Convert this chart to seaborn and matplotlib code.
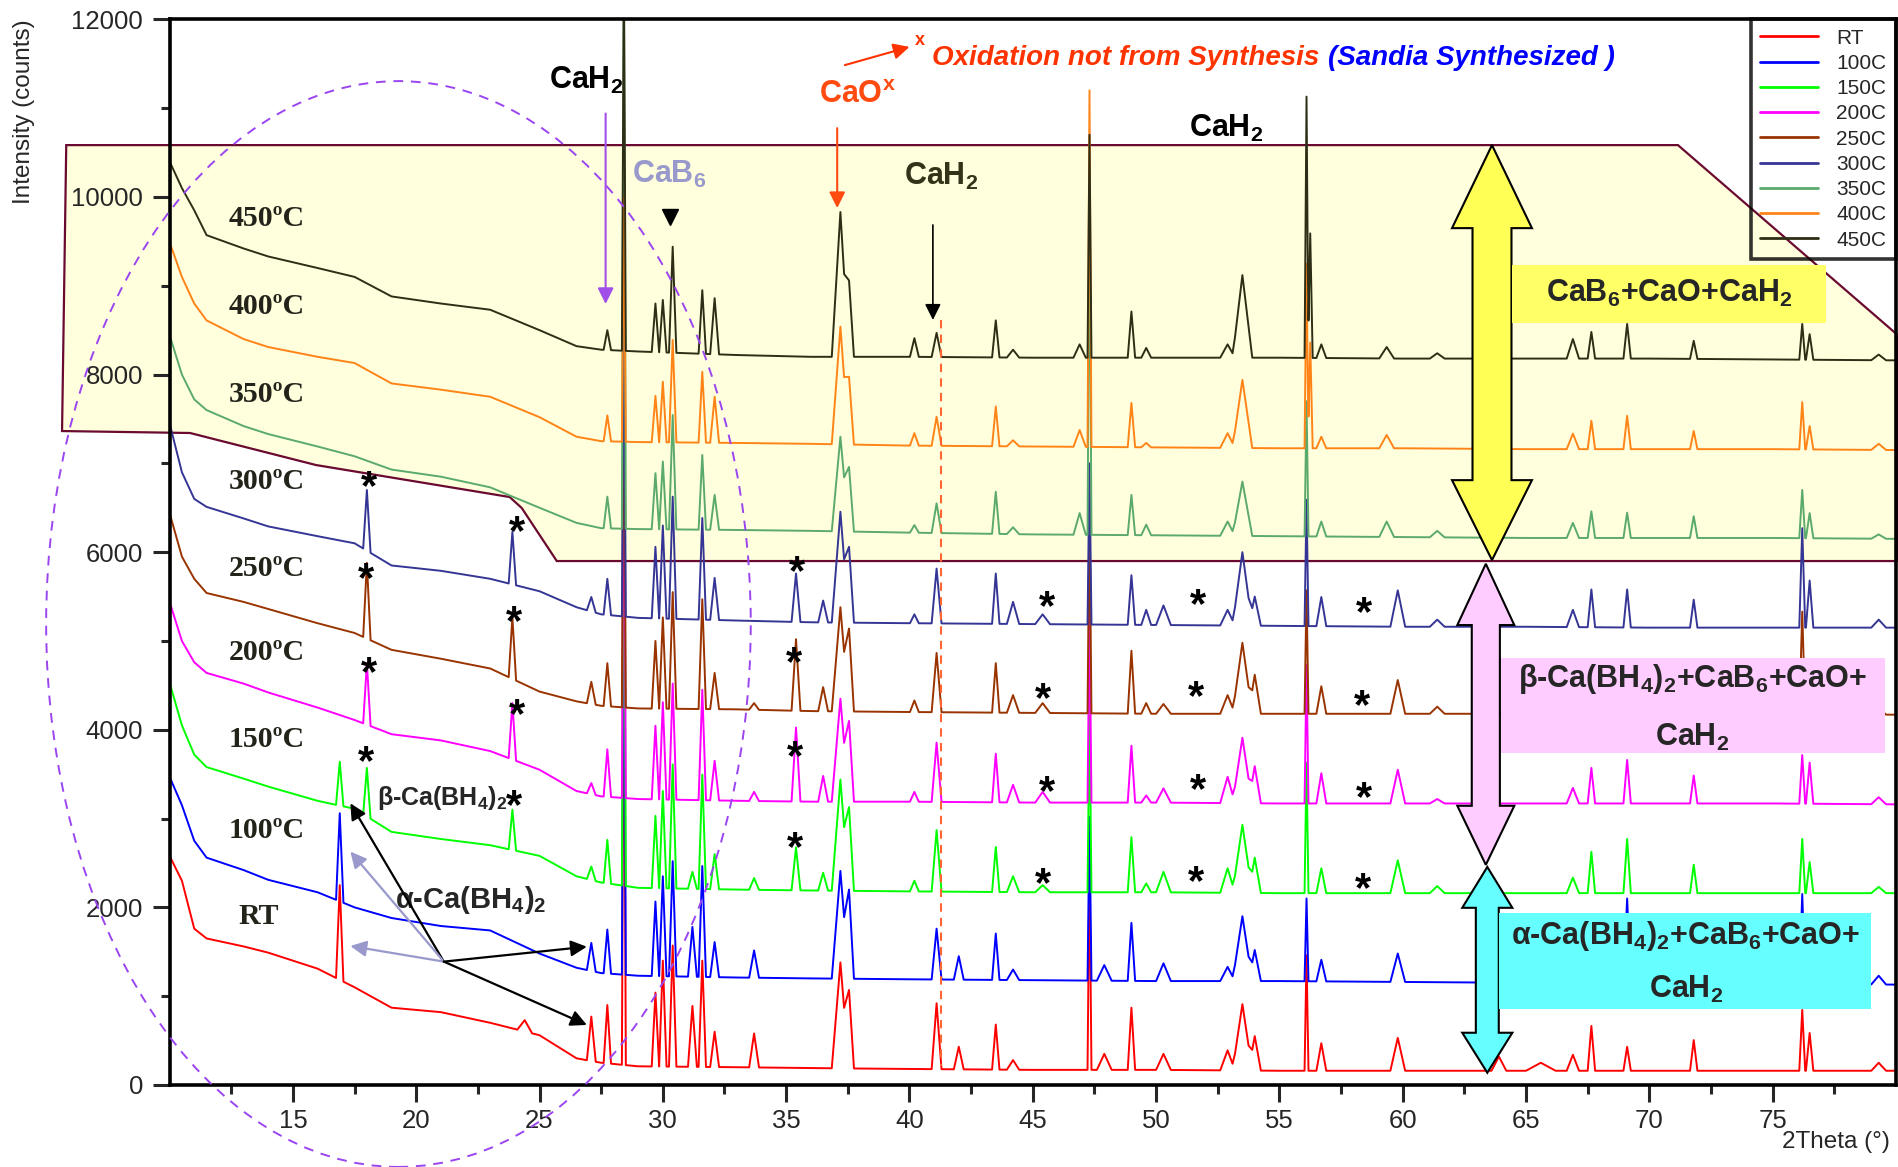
import numpy as np
import pandas as pd
import matplotlib
matplotlib.use("Agg")
import matplotlib.pyplot as plt
from matplotlib.patches import Polygon, Ellipse, Rectangle
from matplotlib.lines import Line2D
import seaborn as sns

sns.set_style("ticks")
plt.rcParams['font.family'] = ['Liberation Sans', 'DejaVu Sans']
plt.rcParams['mathtext.fontset'] = 'custom'
plt.rcParams['mathtext.rm'] = 'Liberation Sans'
plt.rcParams['mathtext.bf'] = 'Liberation Sans:bold'
plt.rcParams['mathtext.it'] = 'Liberation Sans:italic'

# ---- data ---------------------------------------------------------------
samples = ['RT', '100C', '150C', '200C', '250C', '300C', '350C', '400C', '450C']
colors = ['#FF0000', '#0000FF', '#00FF00', '#FF00FF', '#993300',
          '#353595', '#5BAA6B', '#FF8418', '#2E2E16']
temp_labels = ['RT', '100ºC', '150ºC', '200ºC', '250ºC', '300ºC', '350ºC', '400ºC', '450ºC']
temp_label_y = [1895, 2860, 3885, 4866, 5820, 6800, 7770, 8765, 9760]

# background knots (2theta) and background intensity per pattern
knots = [10, 10.5, 11, 11.5, 13, 14, 16, 17.5, 19, 21, 23, 25, 26.5, 27.5,
         29, 33, 36, 40, 45, 50, 55, 60, 65, 70, 75, 80]
bg_rt = [2580, 2300, 1760, 1650, 1560, 1490, 1310, 1100, 870, 820, 700, 560, 300, 250,
         210, 200, 190, 180, 170, 170, 160, 160, 160, 160, 160, 160]
bg_100 = [3470, 3150, 2750, 2560, 2420, 2310, 2170, 2000, 1880, 1790, 1740, 1480, 1320, 1260,
          1230, 1210, 1200, 1190, 1180, 1170, 1170, 1160, 1150, 1140, 1140, 1130]
bg_150 = [4530, 4050, 3720, 3580, 3450, 3360, 3200, 3110, 2850, 2770, 2700, 2580, 2350, 2280,
          2220, 2200, 2190, 2180, 2170, 2170, 2160, 2160, 2160, 2160, 2160, 2160]
bg_200 = [5440, 5000, 4760, 4640, 4520, 4420, 4250, 4110, 3950, 3880, 3760, 3550, 3310, 3250,
          3220, 3200, 3190, 3190, 3180, 3180, 3170, 3170, 3170, 3170, 3170, 3160]
bg_250 = [6440, 5950, 5700, 5540, 5440, 5360, 5200, 5090, 4900, 4800, 4690, 4430, 4320, 4270,
          4240, 4230, 4210, 4200, 4190, 4180, 4180, 4180, 4180, 4170, 4170, 4170]
bg_300 = [7450, 6900, 6600, 6510, 6380, 6290, 6180, 6100, 5850, 5790, 5700, 5560, 5380, 5300,
          5260, 5230, 5210, 5200, 5190, 5180, 5170, 5160, 5160, 5150, 5150, 5150]
bg_350 = [8445, 8000, 7720, 7600, 7420, 7330, 7190, 7080, 6930, 6850, 6730, 6500, 6330, 6270,
          6260, 6250, 6240, 6220, 6200, 6190, 6180, 6170, 6160, 6160, 6160, 6150]
bg_400 = [9490, 9100, 8800, 8610, 8400, 8310, 8200, 8130, 7900, 7830, 7750, 7520, 7300, 7250,
          7240, 7230, 7220, 7200, 7190, 7180, 7170, 7170, 7160, 7160, 7160, 7150]
bg_450 = [10400, 10100, 9850, 9570, 9420, 9330, 9200, 9100, 8880, 8800, 8730, 8500, 8320, 8280,
          8260, 8220, 8200, 8200, 8190, 8190, 8190, 8180, 8180, 8180, 8170, 8160]

# reflections: position, half base width, and peak top (counts, 0 = absent)
peak_pos = [16.9, 18.0, 23.9, 24.4, 27.1, 27.75, 28.42, 29.7, 30.0, 30.4, 31.2, 31.6,
            32.1, 33.7, 35.4, 36.5, 37.2, 37.55, 40.2, 41.1, 42.0, 43.5, 44.2, 45.4,
            46.9, 47.3, 47.9, 49.0, 49.6, 50.3, 52.9, 53.5, 54.0, 56.1, 56.25, 56.7,
            59.35, 59.8, 61.4, 63.9, 65.6, 66.9, 67.65, 69.1, 71.8, 76.2, 76.5, 79.3]
peak_hw = [0.15, 0.15, 0.15, 0.3, 0.18, 0.15, 0.08, 0.15, 0.15, 0.15, 0.18, 0.15,
           0.18, 0.2, 0.18, 0.2, 0.35, 0.2, 0.18, 0.2, 0.2, 0.15, 0.25, 0.3,
           0.25, 0.08, 0.3, 0.15, 0.2, 0.3, 0.3, 0.4, 0.25, 0.08, 0.1, 0.2,
           0.3, 0.3, 0.3, 0.3, 0.6, 0.25, 0.15, 0.15, 0.15, 0.12, 0.15, 0.3]
tops_rt = [2250, 0, 0, 730, 770, 900, 5500, 1040, 1400, 1570, 890, 1400,
           600, 580, 0, 0, 1380, 1070, 0, 920, 430, 680, 280, 0,
           0, 2500, 350, 870, 0, 350, 390, 910, 550, 1460, 0, 470,
           0, 530, 0, 320, 250, 340, 665, 430, 505, 845, 585, 250]
tops_100 = [3060, 0, 0, 0, 1600, 1750, 6500, 2065, 2350, 2520, 1780, 2465,
            1610, 1515, 0, 0, 2410, 2200, 0, 1760, 1450, 1705, 1300, 0,
            0, 3020, 1350, 1825, 0, 1370, 1330, 1900, 1520, 2100, 0, 1410,
            0, 1480, 0, 0, 0, 1300, 1700, 2100, 1600, 2150, 1500, 1230]
tops_150 = [3640, 3570, 3100, 0, 2460, 2760, 7500, 3030, 3310, 3610, 2400, 3495,
            2600, 2330, 2675, 2390, 3440, 3130, 2300, 2870, 0, 2680, 2350, 2250,
            0, 4240, 0, 2790, 2270, 2400, 2440, 2930, 2560, 3630, 0, 2440,
            0, 2530, 2240, 0, 0, 2335, 2625, 2770, 2480, 2770, 2510, 2230]
tops_200 = [0, 4750, 4300, 0, 3400, 3780, 8000, 4045, 4310, 4520, 0, 4450,
            3650, 3300, 4025, 3480, 4350, 4100, 3300, 3855, 0, 3730, 3380, 3300,
            0, 5340, 0, 3820, 3260, 3340, 3470, 3910, 3590, 4730, 0, 3510,
            0, 3550, 3220, 0, 0, 3345, 3570, 3660, 3485, 3715, 3630, 3240]
tops_250 = [0, 5880, 5270, 0, 4540, 4750, 8500, 5000, 5265, 5550, 0, 5470,
            4640, 4300, 5020, 4480, 5380, 5140, 4330, 4865, 0, 4750, 4390, 4300,
            0, 6500, 0, 4890, 4300, 4290, 4390, 4980, 4620, 5570, 0, 4490,
            0, 4560, 4260, 0, 0, 4350, 4600, 4700, 4500, 5330, 4500, 4250]
tops_300 = [0, 6700, 6230, 0, 5495, 5700, 9000, 6060, 6300, 6625, 0, 6385,
            5710, 0, 5760, 5455, 6455, 6060, 5300, 5815, 0, 5760, 5440, 5300,
            0, 7000, 0, 5740, 5350, 5400, 5350, 6000, 5500, 6590, 0, 5495,
            0, 5570, 5240, 0, 0, 5350, 5580, 5580, 5465, 6270, 5680, 5240]
tops_350 = [0, 0, 0, 0, 0, 6625, 13000, 6890, 7020, 7545, 0, 7095,
            6645, 0, 0, 0, 7300, 6960, 6305, 6550, 0, 6680, 6280, 0,
            6440, 9950, 0, 6645, 6310, 0, 6345, 6795, 0, 7700, 0, 6345,
            6345, 0, 6240, 0, 0, 6330, 6460, 6445, 6405, 6700, 6440, 6200]
tops_400 = [0, 0, 0, 0, 0, 7540, 10000, 7760, 7920, 8390, 0, 8030,
            7750, 0, 0, 0, 8540, 7975, 7340, 7525, 0, 7640, 7260, 0,
            7375, 11200, 0, 7680, 7230, 0, 7340, 7940, 0, 9250, 8360, 7300,
            7320, 0, 0, 0, 0, 7335, 7480, 7535, 7365, 7690, 7420, 7220]
tops_450 = [0, 0, 0, 0, 0, 8500, 12500, 8800, 8840, 9440, 0, 8950,
            8860, 0, 0, 0, 9830, 9060, 8410, 8470, 0, 8610, 8280, 0,
            8340, 10700, 0, 8710, 8300, 0, 8340, 9120, 0, 11130, 9590, 8340,
            8310, 0, 8240, 0, 0, 8400, 8480, 8570, 8380, 8570, 8455, 8225]

backgrounds = [bg_rt, bg_100, bg_150, bg_200, bg_250, bg_300, bg_350, bg_400, bg_450]
peak_tops = [tops_rt, tops_100, tops_150, tops_200, tops_250, tops_300, tops_350, tops_400, tops_450]

# beta-Ca(BH4)2 reflections marked with asterisks
star_x = [18.1, 24.08, 35.42, 45.57, 51.71, 58.43,
          17.95, 23.98, 35.32, 45.43, 51.61, 58.33,
          18.1, 24.08, 35.37, 45.57, 51.71, 58.43,
          17.95, 23.98, 35.37, 45.43, 51.61, 58.38]
star_y = [6897, 6392, 5943, 5547, 5575, 5479,
          5861, 5384, 4920, 4512, 4539, 4430,
          4811, 4334, 3857, 3462, 3489, 3394,
          3803, 3312, 2835, 2426, 2453, 2372]


def trace(bg, tops):
    """Polyline through the background knots and the peak feet/tops."""
    use = [(p, w, t) for p, w, t in zip(peak_pos, peak_hw, tops) if t > 0]
    xs = list(knots)
    for p, w, t in use:
        xs += [p - w, p, p + w]
    xs = np.unique(np.array(xs))
    base = np.interp(xs, knots, bg)
    ys = base.copy()
    for p, w, t in use:
        h = t - np.interp(p, knots, bg)
        ys = np.maximum(ys, base + h * np.clip(1 - np.abs(xs - p) / w, 0, None))
    return xs, ys


frames = []
for name, bg, tops in zip(samples, backgrounds, peak_tops):
    x, y = trace(bg, tops)
    frames.append(pd.DataFrame({'two_theta': x, 'counts': y, 'sample': name}))
df = pd.concat(frames, ignore_index=True)

# ---- figure ---------------------------------------------------------------
fig = plt.figure(figsize=(18.99, 11.67), dpi=100)
ax = fig.add_axes([0.0893, 0.0703, 0.9091, 0.9131])

# shaded high temperature region
region = Polygon([(5.81, 10584), (71.16, 10584), (80.07, 8445), (80.07, 5900),
                  (25.70, 5900), (24.28, 6497), (23.79, 6621), (15.94, 6981),
                  (10.83, 7342), (5.64, 7364)], closed=True,
                 facecolor='#FFFFDD', edgecolor='#6A0A30', lw=1.6,
                 clip_on=False, zorder=0.5)
ax.add_patch(region)

sns.lineplot(data=df, x='two_theta', y='counts', hue='sample', hue_order=samples,
             palette=colors, estimator=None, sort=False, lw=1.4, legend=False,
             ax=ax, zorder=2)

ax.set_xlim(10, 80)
ax.set_ylim(0, 12000)
ax.set_xticks(range(15, 80, 5))
ax.set_xticks(np.arange(12.5, 80, 5), minor=True)
ax.set_yticks(range(0, 12001, 2000))
ax.set_yticks(range(1000, 12000, 2000), minor=True)
ax.tick_params(which='major', direction='out', length=12, width=2.2, labelsize=18.5)
ax.tick_params(axis='y', which='major', pad=7)
ax.tick_params(axis='x', which='major', pad=5)
ax.tick_params(which='minor', direction='out', length=6.5, width=2.2)
for s in ax.spines.values():
    s.set_linewidth(2.6)
    s.set_color('black')
ax.set_xlabel('2Theta (°)', fontsize=17.5, ha='left')
ax.xaxis.set_label_coords(0.934, -0.043)
ax.set_ylabel('Intensity (counts)', fontsize=17.5, loc='top')
ax.yaxis.set_label_coords(-0.078, 1.0)

# legend
handles = [Line2D([], [], color=c, lw=2) for c in colors]
leg = ax.legend(handles, samples, loc='upper right', bbox_to_anchor=(1, 1),
                borderaxespad=0, fancybox=False, edgecolor='black', facecolor='none',
                fontsize=15, handlelength=2.75, handletextpad=0.9, labelspacing=0.3,
                borderpad=0.45)
leg.get_frame().set_linewidth(2.6)
leg.set_zorder(10)

# dashed ellipse around the low angle region
ax.add_patch(Ellipse((19.28, 5191), width=28.57, height=12228, fill=False,
                     ls=(0, (5, 4)), ec='#9B45F0', lw=1.4, clip_on=False, zorder=3))

# red dashed guide at the CaH2 reflection
ax.plot([41.26, 41.26], [8615, 215], ls=(0, (4, 3)), color='#FF6633', lw=1.5, zorder=3)

# temperature labels
for lab, yy in zip(temp_labels, temp_label_y):
    ax.text(12.4 if lab != 'RT' else 12.8, yy, lab, family='Liberation Serif',
            fontweight='bold', fontsize=21.5, color='#23231A', va='center', ha='left', zorder=6)

# asterisks
for sx, sy in zip(star_x, star_y):
    ax.text(sx, sy - 180, '*', fontsize=30, fontweight='bold', ha='center',
            va='center', color='black', zorder=6)

# phase labels at the top
big = dict(fontsize=22, fontweight='bold', ha='center', va='center', zorder=6)
ax.text(26.9, 11316, r'CaH$_\mathbf{2}$', color='black', **big)
ax.text(30.24, 10250, r'CaB$_\mathbf{6}$', color='#9999CC', **big)
ax.text(37.9, 11150, r'CaO$^\mathbf{x}$', color='#FF4A10', **big)
ax.text(41.29, 10230, r'CaH$_\mathbf{2}$', color='#333319', **big)
ax.text(52.86, 10775, r'CaH$_\mathbf{2}$', color='black', **big)
ax.plot([30.28], [9780], marker='v', color='black', ms=12, zorder=6)

arrow = dict(arrowstyle='-|>', mutation_scale=24, shrinkA=0, shrinkB=0)
ax.annotate('', xy=(27.68, 8795), xytext=(27.68, 10940),
            arrowprops=dict(color='#A050E8', lw=1.5, **arrow), zorder=6)
ax.annotate('', xy=(37.07, 9875), xytext=(37.07, 10775),
            arrowprops=dict(color='#FF4A10', lw=1.5, **arrow), zorder=6)
ax.annotate('', xy=(40.95, 8615), xytext=(40.95, 9685),
            arrowprops=dict(color='black', lw=1.2, **arrow), zorder=6)
ax.annotate('', xy=(40.0, 11690), xytext=(37.38, 11485),
            arrowprops=dict(color='#FF3300', lw=1.5, **arrow), zorder=6)
ax.text(40.2, 11760, 'x', color='#FF3300', fontsize=13, fontweight='bold',
        ha='left', va='center', zorder=6)
t1 = ax.text(40.93, 11560, 'Oxidation not from Synthesis', color='#FF3300',
             fontsize=20, fontweight='bold', style='italic', ha='left', va='center', zorder=6)
ax.annotate('(Sandia Synthesized )', xy=(1, 0), xycoords=t1, xytext=(6, 0),
            textcoords='offset points', color='#0000FF', fontsize=20, fontweight='bold',
            style='italic', ha='left', va='bottom', zorder=6)

# alpha / beta Ca(BH4)2 labels and arrows
ax.text(18.41, 3231, r'β-Ca(BH$_\mathbf{4}$)$_\mathbf{2}$', fontsize=18, fontweight='bold',
        ha='left', va='center', zorder=6)
ax.text(19.13, 2083, r'α-Ca(BH$_\mathbf{4}$)$_\mathbf{2}$', fontsize=21, fontweight='bold',
        ha='left', va='center', zorder=6)
origin = (21.12, 1389)
for tgt, col in [((17.33, 3172), 'black'), ((17.33, 2628), '#9999CC'),
                 ((17.33, 1565), '#9999CC'), ((26.92, 1557), 'black'),
                 ((26.92, 676), 'black')]:
    ax.annotate('', xy=tgt, xytext=origin,
                arrowprops=dict(color=col, lw=1.6, **arrow), zorder=6)


# double arrows on the right
def double_arrow(xc, top, bot, head_w, shaft_w, head_top, head_bot, fc):
    verts = [(xc, top), (xc + head_w / 2, top - head_top), (xc + shaft_w / 2, top - head_top),
             (xc + shaft_w / 2, bot + head_bot), (xc + head_w / 2, bot + head_bot), (xc, bot),
             (xc - head_w / 2, bot + head_bot), (xc - shaft_w / 2, bot + head_bot),
             (xc - shaft_w / 2, top - head_top), (xc - head_w / 2, top - head_top)]
    ax.add_patch(Polygon(verts, closed=True, facecolor=fc, edgecolor='black',
                         lw=1.5, zorder=4, clip_on=False))


double_arrow(63.62, 10584, 5911, 3.24, 1.58, 935, 900, '#FFFF55')
double_arrow(63.37, 5869, 2479, 2.31, 1.14, 690, 665, '#FFCCFF')
double_arrow(63.43, 2455, 138, 2.03, 0.93, 460, 450, '#66FFFF')

# phase boxes
ax.add_patch(Rectangle((64.44, 8586), 77.16 - 64.44, 9233 - 8586, fc='#FFFF66', ec='none', zorder=5))
ax.text(70.8, 8910, r'CaB$_\mathbf{6}$+CaO+CaH$_\mathbf{2}$', **big)
ax.add_patch(Rectangle((63.98, 3743), 79.54 - 63.98, 4808 - 3743, fc='#FFCCFF', ec='none', zorder=5))
ax.text(71.75, 4576, r'β-Ca(BH$_\mathbf{4}$)$_\mathbf{2}$+CaB$_\mathbf{6}$+CaO+', **big)
ax.text(71.75, 3918, r'CaH$_\mathbf{2}$', **big)
ax.add_patch(Rectangle((63.91, 856), 78.97 - 63.91, 1937 - 856, fc='#66FFFF', ec='none', zorder=5))
ax.text(71.48, 1678, r'α-Ca(BH$_\mathbf{4}$)$_\mathbf{2}$+CaB$_\mathbf{6}$+CaO+', **big)
ax.text(71.48, 1070, r'CaH$_\mathbf{2}$', **big)

fig.savefig('out.png', dpi=100)
